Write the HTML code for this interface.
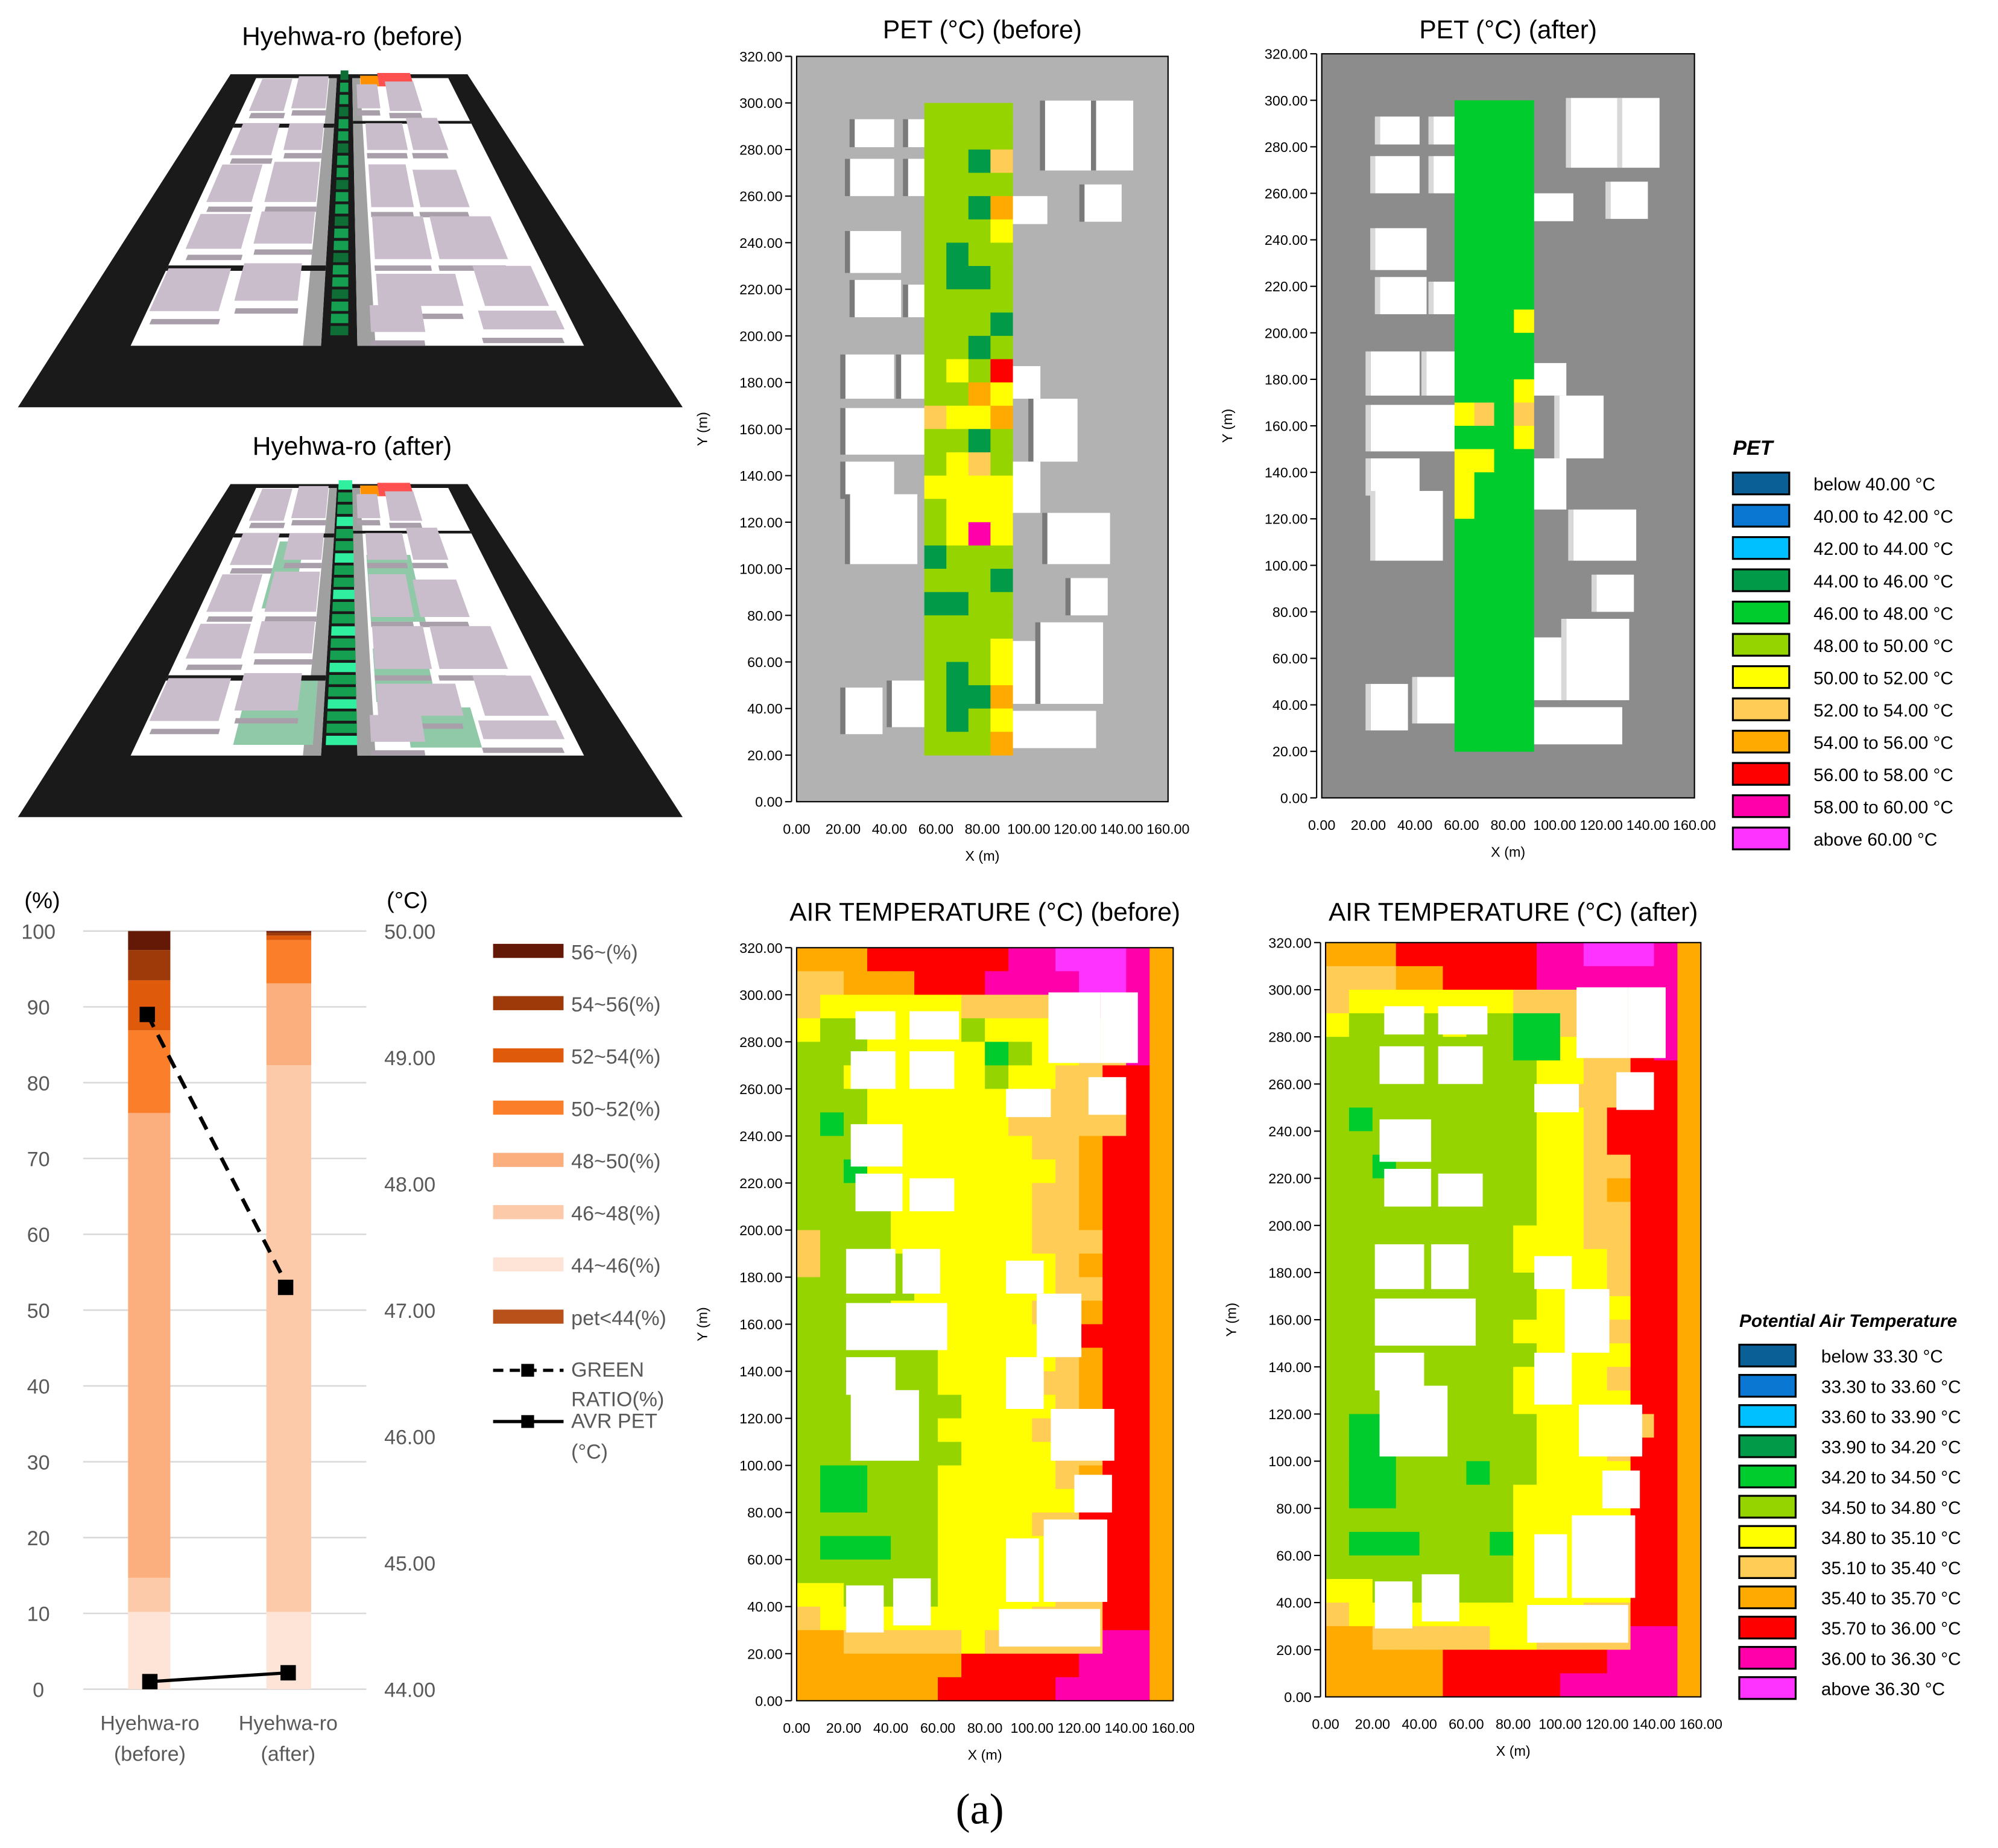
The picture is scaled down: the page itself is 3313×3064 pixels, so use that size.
<!DOCTYPE html>
<html><head><meta charset="utf-8"><style>html,body{margin:0;padding:0;background:#fff}svg{display:block}</style></head>
<body>
<svg id="fig" xmlns="http://www.w3.org/2000/svg" width="3313" height="3064" viewBox="0 0 1560 1443" preserveAspectRatio="none" font-family="'Liberation Sans', sans-serif">
<rect width="1560" height="1443" fill="#fff"/>
<g id="v3d"></g><g id="maps"></g><g id="legends"></g><g id="bar"></g>
<text x="765" y="1424" font-family="'Liberation Serif', serif" font-size="34" text-anchor="middle">(a)</text>
</svg>
<script>
// ===== bar chart data =====
const barCategories = ["Hyehwa-ro|(before)", "Hyehwa-ro|(after)"];
const stackNames = ["44~46(%)","46~48(%)","48~50(%)","50~52(%)","52~54(%)","54~56(%)","56~(%)"];
const stackBefore = [10.2, 4.5, 61.3, 10.9, 6.6, 4.0, 2.5];
const stackAfter = [10.2, 72.1, 10.8, 5.7, 0.6, 0.4, 0.2];
const greenRatio = [89, 53];
const avrPet = [44.06, 44.13];
const pctTicks = [0,10,20,30,40,50,60,70,80,90,100];
const degTicks = ["44.00","45.00","46.00","47.00","48.00","49.00","50.00"];
// ===== heatmap data =====
const airBefore = [
"ooorrrrrrmmpppmo","llooorrrmmmmppmo","lyyyyyylllllrrmo","yggyyyygyyyylrmo",
"gggyyyyyGgyyllmo","ggyyyyyygyyllrro","gggyyyyyyyllllro","gGgyyyyyylllllro",
"gggyyyyyyyllorro","ggGyyyyyyyylorro","gggyyGyyyyllorro","ggggyyyyyyllorro",
"lgggyyyyyylllrro","lggggyyyyyylorro","gggggyyyyyyllrro","ggggyyyyyyllorro",
"gggggyyyyyylrrro","ggggggyyyyylorro","ggggggyyyyllorro","gggGgggyyyylorro",
"ggggggyyyylllrro","gggggggyyyyllrro","gGGgggyyyyylorro","gGGgggyyyyyyrrro",
"ggggggyyyyllrrro","gGGGggyyyyyllrro","ggggggyyyyyllrro","yyggggyyyyyllrro",
"lyyyyyyyyylllrro","oolllllylllllmmo","ooooooorrrrrmmmo","oooooorrrrrmmmmo"];
const airAfter = [
"ooorrrrrrmmpppmo","llloorrrrmmmmmmo","lyyyyyyylllllrmo","yggggyggGGlllrmo",
"ggggggggGGyllrmo","gggggggggyyllrro","gggggggggylllrro","gGgggggggyylrrro",
"gggggggggyylrrro","ggGggggggyyllrro","gggggggggyylorro","gggggggggyyllrro",
"ggggggggyyyllrro","ggggggggyyyylrro","gggggggggyyylrro","gggggggggyyyyrro",
"ggggggggyyyylrro","gggggggggyyyyrro","ggggggggyyyylrro","ggggggggyyyyyrro",
"gGGggggggyyyllro","gGGggggggyyylrro","gGGgggGggyyyyrro","gGGgggggyyyyyrro",
"ggggggggyyyyyrro","gGGGgggGyyyyyrro","ggggggggyyyyyrro","yyggggggyyyyyrro",
"lyyyyyyyyyyllrro","oolllllyyllllmmo","ooooorrrrrrrmmmo","ooooorrrrrmmmmmo"];
const petStripBefore = ["gggg","gggg","ggDl","gggg","ggDo","gggy","gDgg","gDDg","gggg","gggD","ggDg","gygr","ggoy","lyyo","ggDg","gylg","yyyy","gyyy","gymy","Dggg","gggD","DDgg","gggg","gggy","gDgy","gDDo","gDgy","gggo"];
const petStripAfter = ["GGGG","GGGG","GGGG","GGGG","GGGG","GGGG","GGGG","GGGG","GGGG","GGGy","GGGG","GGGG","GGGy","ylGl","GGGy","yyGG","yGGG","yGGG","GGGG","GGGG","GGGG","GGGG","GGGG","GGGG","GGGG","GGGG","GGGG","GGGG"];
const buildings = [[25,281,17,12],[48,281,21,12],[23,260,19,16],[48,260,19,16],[23,227,22,18],[25,208,20,16],[48,208,19,14],[89,248,19,12],[107,271,22,30],[129,271,16,30],[21,173,21,19],[45,173,16,19],[21,149,43,20],[21,130,21,16],[89,173,16,14],[102,146,19,27],[89,124,16,22],[23,102,29,30],[108,102,27,22],[21,29,16,20],[41,32,16,20],[89,42,14,27],[105,42,27,35],[86,23,43,16],[118,80,16,16],[124,249,16,16]];
const petLegend = ["below 40.00 °C","40.00 to 42.00 °C","42.00 to 44.00 °C","44.00 to 46.00 °C","46.00 to 48.00 °C","48.00 to 50.00 °C","50.00 to 52.00 °C","52.00 to 54.00 °C","54.00 to 56.00 °C","56.00 to 58.00 °C","58.00 to 60.00 °C","above 60.00 °C"];
const airLegend = ["below 33.30 °C","33.30 to 33.60 °C","33.60 to 33.90 °C","33.90 to 34.20 °C","34.20 to 34.50 °C","34.50 to 34.80 °C","34.80 to 35.10 °C","35.10 to 35.40 °C","35.40 to 35.70 °C","35.70 to 36.00 °C","36.00 to 36.30 °C","above 36.30 °C"];
const yTicksMap = [0,20,40,60,80,100,120,140,160,180,200,220,240,260,280,300,320];
const xTicksMap = [0,20,40,60,80,100,120,140,160];

const NS="http://www.w3.org/2000/svg";
function mk(tag, attrs, parent){const e=document.createElementNS(NS,tag);for(const k in attrs)e.setAttribute(k,attrs[k]);if(parent)parent.appendChild(e);return e;}
function txt(parent,x,y,s,size,anchor,extra){const t=mk('text',Object.assign({x:x,y:y,'font-size':size,'text-anchor':anchor||'start',fill:'#000'},extra||{}),parent);t.textContent=s;return t;}
const scale=["#0a5f96","#0a78d2","#00c0ff","#009a48","#00cc2e","#96d400","#ffff00","#ffcc55","#ffaa00","#ff0000","#ff00aa","#ff33ff"];
const cmap={D:"#009a48",G:"#00cc2e",g:"#96d400",y:"#ffff00",l:"#ffcc55",o:"#ffaa00",r:"#ff0000",m:"#ff00aa",p:"#ff33ff"};

// ===== 3D views =====
const V=document.getElementById('v3d');
const blocks=[[0.05,0.03,0.2,0.15],[0.23,0.02,0.38,0.14],[0.05,0.2,0.2,0.32],[0.24,0.2,0.38,0.3],[0.04,0.36,0.18,0.5],[0.22,0.35,0.38,0.5],[0.04,0.55,0.19,0.68],[0.22,0.54,0.38,0.66],[0.02,0.76,0.18,0.92],[0.21,0.74,0.36,0.88],[0.52,0.05,0.62,0.14],[0.66,0.04,0.8,0.15],[0.55,0.2,0.7,0.3],[0.72,0.18,0.85,0.3],[0.55,0.36,0.68,0.52],[0.7,0.38,0.85,0.52],[0.55,0.56,0.7,0.72],[0.72,0.56,0.9,0.72],[0.55,0.78,0.75,0.9],[0.8,0.75,0.95,0.9],[0.53,0.9,0.65,1.0],[0.78,0.92,0.96,0.99]];
function view3d(oy,after,name){
  const g=mk('g',{},V);
  
  
  mk('polygon',{points:`180,${oy} 365,${oy} 533,${oy+260} 14,${oy+260}`,fill:'#1a1a1a'},g);
  const P=(u,v)=>{const xl=200+(102-200)*v,xr=350+(456-350)*v;return [xl+u*(xr-xl),oy+3+209*v];};
  const quad=(u0,v0,u1,v1,fill,dy)=>{dy=dy||0;const a=P(u0,v0),b=P(u1,v0),c=P(u1,v1),d=P(u0,v1);mk('polygon',{points:`${a[0]},${a[1]-dy} ${b[0]},${b[1]-dy} ${c[0]},${c[1]-dy} ${d[0]},${d[1]-dy}`,fill:fill},g);};
  quad(0,0,0.42,1,'#ffffff');quad(0.5,0,1,1,'#ffffff');
  quad(0.38,0,0.42,1,'#a0a0a0');quad(0.5,0,0.54,1,'#a0a0a0');
  quad(0,0.17,0.42,0.185,'#1a1a1a');quad(0,0.7,0.42,0.72,'#1a1a1a');quad(0.5,0.16,1,0.17,'#1a1a1a');
  quad(0.63,0,0.8,0.05,'#ff5050',4);quad(0.54,0.01,0.63,0.05,'#ff9000',4);
  if(after){[[0.2,0.2,0.3,0.45],[0.22,0.72,0.4,0.96],[0.55,0.25,0.72,0.5],[0.55,0.6,0.7,0.8],[0.62,0.82,0.78,0.97]].forEach(b=>quad(b[0],b[1],b[2],b[3],'#8fc9a8'));}
  blocks.forEach(b=>{const h=8+ (b[3])*10;quad(b[0],b[3]-0.02,b[2],b[3],'#a99fab',0);quad(b[0],b[1],b[2],b[3],'#c9bdcb',h*0.6);});
  for(let i=0;i<22;i++){const v=i/22;quad(after?0.43:0.44,v,after?0.5:0.48,v+0.035,i%3?'#14a050':(after?'#30f0a0':'#0e6e36'),6);}
  txt(g,275,oy-23,name.indexOf('after')>0?'Hyehwa-ro (after)':'Hyehwa-ro (before)',20,'middle');
}
view3d(58,false,'view-3d-before');
view3d(378,true,'view-3d-after');

// ===== heatmaps =====
const M=document.getElementById('maps');
function heatmap(o){
  const g=mk('g',{},M);
  
  
  const X=m=>o.x0+(m/160)*(o.x1-o.x0), Y=m=>o.y1-(m/320)*(o.y1-o.y0);
  mk('rect',{x:o.x0,y:o.y0,width:o.x1-o.x0,height:o.y1-o.y0,fill:o.bg},g);
  if(o.grid){o.grid.forEach((row,r)=>{for(let c=0;c<row.length;c++){const cell=mk('rect',{x:X(c*10),y:Y(320-r*10),width:X(10)-X(0)+0.3,height:Y(0)-Y(10)+0.3,fill:cmap[row[c]]},g);}});}
  buildings.forEach(b=>{const e=mk('rect',{x:X(b[0]),y:Y(b[1]+b[3]),width:X(b[2])-X(0),height:Y(0)-Y(b[3]),fill:'#fff'},g);
    if(o.shade){mk('rect',{x:X(b[0])-4,y:Y(b[1]+b[3]),width:4,height:Y(0)-Y(b[3]),fill:o.shade},g);}});
  if(o.strip){o.strip.forEach((row,r)=>{for(let c=0;c<4;c++){const cell=mk('rect',{x:X(o.sx+c*o.sw),y:Y(300-r*10),width:X(o.sw)-X(0)+0.3,height:Y(0)-Y(10)+0.3,fill:cmap[row[c]]},g);}});}
  mk('rect',{x:o.x0,y:o.y0,width:o.x1-o.x0,height:o.y1-o.y0,fill:'none',stroke:'#000','stroke-width':1},g);
  mk('line',{x1:o.x0-4,y1:o.y0,x2:o.x0-4,y2:o.y1,stroke:'#000','stroke-width':1},g);
  yTicksMap.forEach(t=>{mk('line',{x1:o.x0-9,x2:o.x0-4,y1:Y(t),y2:Y(t),stroke:'#000'},g);txt(g,o.x0-11,Y(t)+4,t.toFixed(2),11,'end');});
  xTicksMap.forEach(t=>{txt(g,X(t),o.y1+25,t.toFixed(2),11,'middle');});
  txt(g,(o.x0+o.x1)/2,o.y1+46,'X (m)',11,'middle');
  txt(g,0,0,'Y (m)',11,'middle',{transform:`translate(${o.x0-70},${(o.y0+o.y1)/2}) rotate(-90)`});
  txt(g,(o.x0+o.x1)/2,o.titleY,o.title,20,'middle');
}
heatmap({name:'pet-map-before',x0:622,x1:912,y0:44,y1:626,bg:'#b2b2b2',shade:'#7a7a7a',strip:petStripBefore,sx:55,sw:9.5,title:'PET (°C) (before)',titleY:30});
heatmap({name:'pet-map-after',x0:1032,x1:1323,y0:42,y1:623,bg:'#8c8c8c',shade:'#d8d8d8',strip:petStripAfter,sx:57,sw:8.5,title:'PET (°C) (after)',titleY:30});
heatmap({name:'air-map-before',x0:622,x1:916,y0:740,y1:1328,bg:'#ffff00',grid:airBefore,title:'AIR TEMPERATURE (°C) (before)',titleY:719});
heatmap({name:'air-map-after',x0:1035,x1:1328,y0:736,y1:1325,bg:'#ffff00',grid:airAfter,title:'AIR TEMPERATURE (°C) (after)',titleY:719});

// ===== legends =====
const L=document.getElementById('legends');
function legend(x,y,step,title,labels,tx,name){
  const g=mk('g',{},L);
  
  
  txt(g,x,y-23,title,title.length>4?14:16,'start',{'font-weight':'bold','font-style':'italic'});
  labels.forEach((s,i)=>{const r=mk('rect',{x:x,y:y+i*step-9,width:44,height:17,fill:scale[i],stroke:'#000','stroke-width':1.5},g);txt(g,tx,y+i*step+5,s,14);});
}
legend(1353,378,25.2,'PET',petLegend,1416,'pet-legend');
legend(1358,1059,23.6,'Potential Air Temperature',airLegend,1422,'air-legend');

// ===== bar chart =====
const B=document.getElementById('bar');
const yP=v=>1319-v*5.92, yD=t=>1319-(t-44)/6*592;
txt(B,33,709,'(%)',18,'middle');txt(B,318,709,'(°C)',18,'middle');
pctTicks.forEach(t=>{mk('line',{x1:65,x2:286,y1:yP(t),y2:yP(t),stroke:'#d9d9d9','stroke-width':1.2},B);txt(B,30,yP(t)+6,String(t),16,'middle',{fill:'#595959'});});
degTicks.forEach(t=>{txt(B,320,yD(parseFloat(t))+6,t,16,'middle',{fill:'#595959'});});
const stackCols=["#fde4d6","#fccaa8","#fbae7e","#fb7e2a","#e05a0c","#9e3a0a","#641806"];
const barX=[100,208], barW=[33,35], centers=[117,225];
[stackBefore,stackAfter].forEach((arr,bi)=>{let acc=0;arr.forEach((v,si)=>{const r=mk('rect',{x:barX[bi],y:yP(acc+v),width:barW[bi],height:yP(acc)-yP(acc+v),fill:stackCols[si]},B);acc+=v;});
  const lines=barCategories[bi].split('|');txt(B,centers[bi],1351,lines[0],16,'middle',{fill:'#595959'});txt(B,centers[bi],1375,lines[1],16,'middle',{fill:'#595959'});});
mk('line',{x1:centers[0]-2,y1:yP(greenRatio[0]),x2:centers[1],y2:yP(greenRatio[1]),stroke:'#000','stroke-width':3,'stroke-dasharray':'11,7'},B);
mk('line',{x1:centers[0],y1:yD(avrPet[0]),x2:centers[1],y2:yD(avrPet[1]),stroke:'#000','stroke-width':2.5},B);
greenRatio.forEach((v,i)=>{const r=mk('rect',{x:centers[i]-2-6,y:yP(v)-6,width:12,height:12,fill:'#000'},B);});
avrPet.forEach((v,i)=>{const r=mk('rect',{x:centers[i]-6,y:yD(v)-6,width:12,height:12,fill:'#000'},B);});
const legNames=["56~(%)","54~56(%)","52~54(%)","50~52(%)","48~50(%)","46~48(%)","44~46(%)","pet<44(%)"];
const legCols=["#641806","#9e3a0a","#e05a0c","#fb7e2a","#fbae7e","#fccaa8","#fde4d6","#b8521a"];
legNames.forEach((s,i)=>{const y=742+i*40.8;const r=mk('rect',{x:385,y:y-5,width:55,height:11,fill:legCols[i]},B);txt(B,446,y+7,s,16,'start',{fill:'#595959'});});
mk('line',{x1:385,x2:440,y1:1070,y2:1070,stroke:'#000','stroke-width':2.5,'stroke-dasharray':'8,5'},B);mk('rect',{x:407,y:1065,width:10,height:10,fill:'#000'},B);
txt(B,446,1075,'GREEN',16,'start',{fill:'#595959'});txt(B,446,1098,'RATIO(%)',16,'start',{fill:'#595959'});
mk('line',{x1:385,x2:440,y1:1110,y2:1110,stroke:'#000','stroke-width':2.5},B);mk('rect',{x:407,y:1105,width:10,height:10,fill:'#000'},B);
txt(B,446,1115,'AVR PET',16,'start',{fill:'#595959'});txt(B,446,1139,'(°C)',16,'start',{fill:'#595959'});
</script>
</body></html>
